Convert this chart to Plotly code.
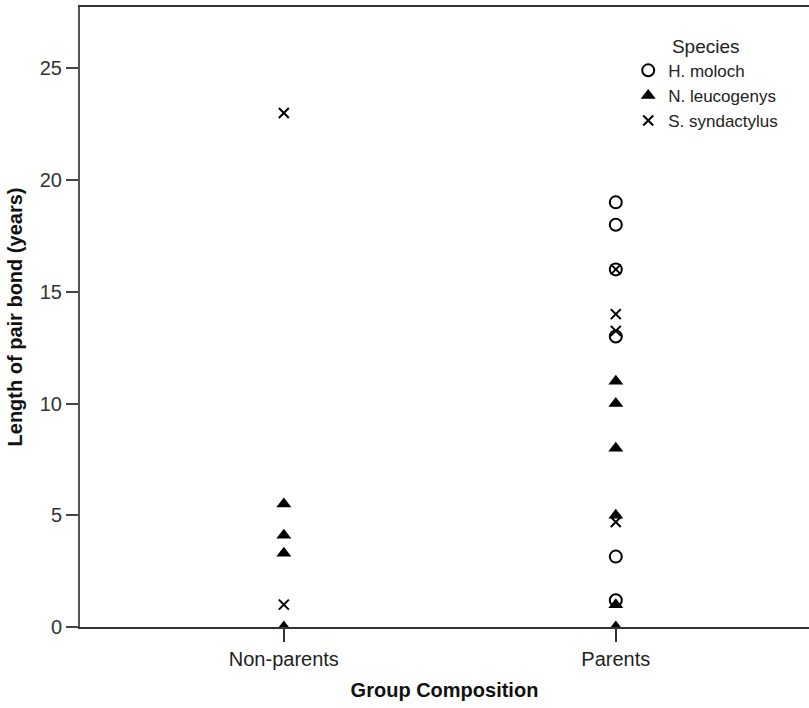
import plotly.graph_objects as go

# ---- data ----
groups = ["Non-parents", "Parents"]
species = ["H. moloch", "N. leucogenys", "S. syndactylus"]

moloch_group = ["Parents", "Parents", "Parents", "Parents", "Parents", "Parents"]
moloch_years = [19, 18, 16, 13, 3.15, 1.2]

leuco_group = ["Non-parents", "Non-parents", "Non-parents", "Non-parents",
               "Parents", "Parents", "Parents", "Parents", "Parents", "Parents"]
leuco_years = [5.5, 4.1, 3.3, 0, 11, 10, 8, 5, 1, 0]

synd_group = ["Non-parents", "Non-parents", "Parents", "Parents", "Parents", "Parents"]
synd_years = [23, 1, 16, 14, 13.25, 4.7]

y_ticks = [0, 5, 10, 15, 20, 25]

gx = {g: i for i, g in enumerate(groups)}

FONT = "Arial, Liberation Sans, sans-serif"

fig = go.Figure()
fig.add_trace(go.Scatter(
    x=[gx[g] for g in moloch_group], y=moloch_years, mode="markers", name=species[0],
    legendrank=1,
    marker=dict(symbol="circle-open", size=12, color="black", line=dict(width=2, color="black")),
))
fig.add_trace(go.Scatter(
    x=[gx[g] for g in synd_group], y=synd_years, mode="markers", name=species[2],
    legendrank=3,
    marker=dict(symbol="x-thin-open", size=10, color="black", line=dict(width=2, color="black")),
))
fig.add_trace(go.Scatter(
    x=[gx[g] for g in leuco_group], y=leuco_years, mode="markers", name=species[1],
    legendrank=2,
    marker=dict(symbol="triangle-up", size=13, color="black", line=dict(width=0)),
))

fig.update_layout(
    width=809, height=708,
    margin=dict(l=80, r=0, t=7, b=81),
    paper_bgcolor="white", plot_bgcolor="white",
    font=dict(family=FONT, color="#222", size=17),
    legend=dict(
        x=0.752, y=0.966, xanchor="left", yanchor="top",
        title=dict(text="Species", side="top center", font=dict(size=19, color="#222")),
        font=dict(size=17, color="#222"),
        itemwidth=30, bgcolor="rgba(0,0,0,0)",
    ),
    xaxis=dict(
        range=[-0.614, 1.582],
        tickmode="array", tickvals=[0, 1], ticktext=groups,
        ticks="outside", ticklen=13, tickcolor="#333", tickwidth=1.5,
        showline=True, linecolor="#333", linewidth=1.5, mirror=True,
        showgrid=False, zeroline=False,
        tickfont=dict(size=20, color="#222"),
        title=dict(text="<b>Group Composition</b>", font=dict(size=20, color="#111"), standoff=14),
    ),
    yaxis=dict(
        range=[0, 27.74],
        tickmode="array", tickvals=y_ticks,
        ticks="outside", ticklen=12, tickcolor="#444", tickwidth=1.5,
        showline=True, linecolor="#555", linewidth=2,
        showgrid=False, zeroline=False,
        tickfont=dict(size=20, color="#333"),
        title=dict(text="<b>Length of pair bond (years)</b>", font=dict(size=20, color="#111"), standoff=12),
    ),
)

fig.write_html("out.html", config={"displayModeBar": False},
               post_script="document.body.style.margin='0px';")
